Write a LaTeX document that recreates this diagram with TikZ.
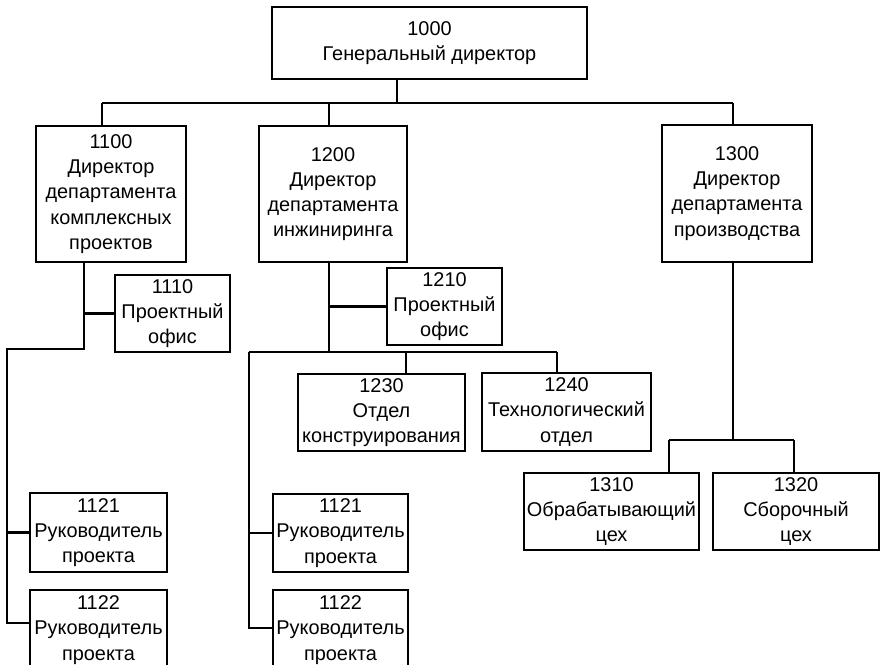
\documentclass[tikz,border=0pt]{standalone}
\usepackage{fontspec}
\setmainfont{Liberation Sans}
\newlength\pxu
\setlength\pxu{0.03cm}
\begin{document}
\begin{tikzpicture}[x=0.03cm,y=-0.03cm,
  box/.style={draw,line width=1.8pt,rectangle,align=center,inner sep=0pt,
    font=\fontsize{17pt}{21.5pt}\selectfont},
  conn/.style={line width=1.8pt}]
\useasboundingbox (0,0) rectangle (881,664);
\clip (0,0) rectangle (881,664);
% nodes
\node[box,minimum width=315\pxu,minimum height=72\pxu] (n1000) at (429.5,43) {1000\\Генеральный директор};
\node[box,minimum width=150\pxu,minimum height=136\pxu] (n1100) at (111,194) {1100\\Директор\\департамента\\комплексных\\проектов};
\node[box,minimum width=148\pxu,minimum height=136\pxu] (n1200) at (333,194) {1200\\Директор\\департамента\\инжиниринга};
\node[box,minimum width=150\pxu,minimum height=137\pxu] (n1300) at (737,193.5) {1300\\Директор\\департамента\\производства};
\node[box,minimum width=115\pxu,minimum height=77\pxu] (n1110) at (172.5,313.5) {1110\\Проектный\\офис};
\node[box,minimum width=115\pxu,minimum height=77\pxu] (n1210) at (444.5,306.5) {1210\\Проектный\\офис};
\node[box,minimum width=167\pxu,minimum height=77\pxu] (n1230) at (381.5,412.5) {1230\\Отдел\\конструирования};
\node[box,minimum width=169\pxu,minimum height=78\pxu] (n1240) at (566.5,412) {1240\\Технологический\\отдел};
\node[box,minimum width=175\pxu,minimum height=77\pxu] (n1310) at (611.5,511.5) {1310\\Обрабатывающий\\цех};
\node[box,minimum width=166\pxu,minimum height=77\pxu] (n1320) at (796,511.5) {1320\\Сборочный\\цех};
\node[box,minimum width=137\pxu,minimum height=79\pxu] (n1121a) at (98.5,532.5) {1121\\Руководитель\\проекта};
\node[box,minimum width=137\pxu,minimum height=80\pxu] (n1122a) at (98.5,630) {1122\\Руководитель\\проекта};
\node[box,minimum width=135\pxu,minimum height=78\pxu] (n1121b) at (340.5,533) {1121\\Руководитель\\проекта};
\node[box,minimum width=135\pxu,minimum height=80\pxu] (n1122b) at (340.5,630) {1122\\Руководитель\\проекта};
% junctions
\coordinate (top) at (397,103);
\coordinate (b1) at (102,103);
\coordinate (b2) at (329,103);
\coordinate (b3) at (733,103);
\coordinate (s1) at (84,349);
\coordinate (c1) at (7,349);
\coordinate (c2) at (7,623);
\coordinate (s2) at (329,352);
\coordinate (d0) at (249,352);
\coordinate (d1) at (406,352);
\coordinate (d2) at (557,352);
\coordinate (d3) at (249,628);
\coordinate (e0) at (733,440);
\coordinate (e1) at (669,440);
\coordinate (e2) at (794,440);
% connectors
\draw[conn] (n1000.south -| top) -- (top);
\draw[conn] (b1) -- (b3);
\draw[conn] (b1) -- (n1100.north -| b1);
\draw[conn] (b2) -- (n1200.north -| b2);
\draw[conn] (b3) -- (n1300.north -| b3);
\draw[conn] (n1100.south -| s1) -- (s1) -- (c1) -- (c2) -- (c2 -| n1122a.west);
\draw[conn] (s1 |- n1110.west) -- (n1110.west);
\draw[conn] (c1 |- n1121a.west) -- (n1121a.west);
\draw[conn] (n1200.south -| s2) -- (s2);
\draw[conn] (s2 |- n1210.west) -- (n1210.west);
\draw[conn] (d0) -- (d2);
\draw[conn] (d1) -- (d1 |- n1230.north);
\draw[conn] (d2) -- (d2 |- n1240.north);
\draw[conn] (d0) -- (d3) -- (d3 -| n1122b.west);
\draw[conn] (d0 |- n1121b.west) -- (n1121b.west);
\draw[conn] (n1300.south -| e0) -- (e0);
\draw[conn] (e1) -- (e2);
\draw[conn] (e1) -- (e1 |- n1310.north);
\draw[conn] (e2) -- (e2 |- n1320.north);
\end{tikzpicture}
\end{document}
